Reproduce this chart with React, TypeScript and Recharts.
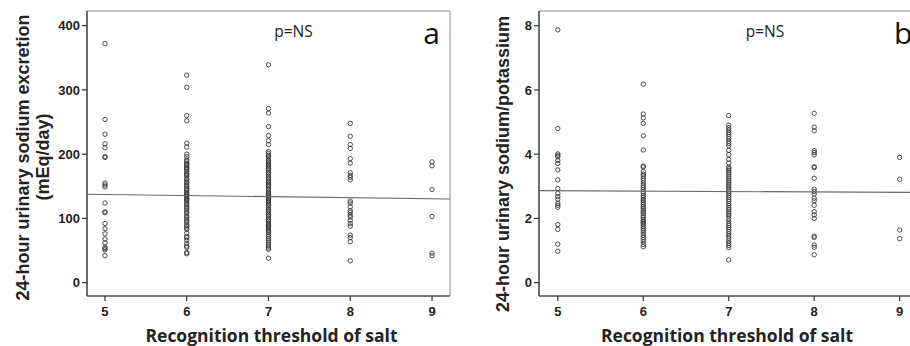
import React from 'react';
import { ScatterChart, Scatter, XAxis, YAxis, ReferenceArea, Customized } from 'recharts';

// ---- data ----
const thresholds = [5, 6, 7, 8, 9];
const sodiumAt5 = [372, 254, 231, 216, 210, 196, 195, 155, 152, 149, 124, 110, 109, 92, 84, 76, 68, 62, 55, 53, 51, 42];
const sodiumAt6 = [323, 304, 260, 252, 217, 211, 200, 196, 191, 189, 186, 184, 183, 180, 178, 176, 173, 170, 168, 166, 162, 160, 157, 155, 152, 150, 147, 145, 143, 140, 138, 136, 134, 131, 130, 128, 126, 123, 121, 118, 116, 113, 110, 108, 104, 102, 99, 96, 94, 90, 88, 85, 83, 77, 72, 70, 66, 61, 57, 55, 47, 45];
const sodiumAt7 = [339, 271, 264, 243, 229, 221, 215, 204, 201, 198, 196, 193, 190, 188, 185, 183, 181, 178, 177, 174, 171, 169, 166, 163, 161, 158, 156, 153, 151, 149, 146, 144, 141, 139, 137, 135, 133, 131, 129, 127, 125, 122, 120, 117, 114, 112, 109, 106, 104, 101, 98, 96, 93, 91, 89, 87, 85, 82, 80, 78, 75, 72, 69, 66, 63, 60, 57, 54, 52, 38];
const sodiumAt8 = [248, 228, 215, 209, 193, 186, 171, 167, 164, 160, 127, 124, 118, 112, 109, 105, 102, 97, 92, 88, 74, 70, 64, 34];
const sodiumAt9 = [188, 182, 145, 103, 46, 42];
const sodiumFitX = [4.78, 9.22];
const sodiumFitY = [137.6, 130.3];
const sodiumTicks = [0, 100, 200, 300, 400];

const ratioAt5 = [7.87, 4.8, 4.01, 3.96, 3.92, 3.8, 3.71, 3.51, 3.2, 2.93, 2.78, 2.68, 2.6, 2.47, 2.41, 2.35, 1.81, 1.66, 1.2, 0.98];
const ratioAt6 = [6.18, 5.25, 5.13, 4.96, 4.57, 4.13, 3.63, 3.6, 3.46, 3.38, 3.32, 3.25, 3.18, 3.1, 3.03, 2.97, 2.9, 2.84, 2.78, 2.71, 2.66, 2.6, 2.55, 2.49, 2.43, 2.37, 2.32, 2.26, 2.2, 2.15, 2.09, 2.03, 1.97, 1.92, 1.89, 1.85, 1.8, 1.74, 1.68, 1.62, 1.55, 1.48, 1.41, 1.34, 1.27, 1.19, 1.12];
const ratioAt7 = [5.2, 4.9, 4.82, 4.75, 4.68, 4.62, 4.55, 4.48, 4.4, 4.33, 4.26, 4.12, 3.99, 3.84, 3.72, 3.6, 3.55, 3.5, 3.44, 3.38, 3.31, 3.25, 3.19, 3.13, 3.07, 3.01, 2.95, 2.89, 2.83, 2.77, 2.71, 2.65, 2.59, 2.53, 2.46, 2.4, 2.33, 2.27, 2.2, 2.14, 2.08, 2.0, 1.92, 1.84, 1.78, 1.72, 1.66, 1.59, 1.52, 1.45, 1.38, 1.3, 1.23, 1.16, 1.09, 0.71];
const ratioAt8 = [5.27, 4.84, 4.73, 4.11, 4.05, 3.98, 3.61, 3.58, 3.25, 2.91, 2.84, 2.76, 2.63, 2.55, 2.41, 2.21, 2.11, 2.0, 1.45, 1.41, 1.17, 1.1, 0.87];
const ratioAt9 = [3.9, 3.22, 1.64, 1.37];
const ratioFitX = [4.78, 9.22];
const ratioFitY = [2.865, 2.81];
const ratioTicks = [0, 2, 4, 6, 8];

const xLabel = 'Recognition threshold of salt';
const sodiumLabel1 = '24-hour urinary sodium excretion';
const sodiumLabel2 = '(mEq/day)';
const ratioLabel = '24-hour urinary sodium/potassium';
const pText = 'p=NS';

// ---- build tables ----
const buildPoints = (cols: number[][]) =>
  cols.flatMap((vals, i) => vals.map((v) => ({ x: thresholds[i], y: v })));
const buildFit = (xs: number[], ys: number[]) => xs.map((x, i) => ({ x, y: ys[i] }));

const sodiumPoints = buildPoints([sodiumAt5, sodiumAt6, sodiumAt7, sodiumAt8, sodiumAt9]);
const ratioPoints = buildPoints([ratioAt5, ratioAt6, ratioAt7, ratioAt8, ratioAt9]);
const sodiumFit = buildFit(sodiumFitX, sodiumFitY);
const ratioFit = buildFit(ratioFitX, ratioFitY);

const X_DOMAIN: [number, number] = [4.78, 9.22];

const AXIS_FONT = '"Liberation Sans", Arial, sans-serif';
const LABEL_FONT = '"Open Sans", "Noto Sans", sans-serif';

const Circle = (p: any) => (
  <circle cx={p.cx} cy={p.cy} r={2.2} fill="none" stroke="#3a3a3a" strokeWidth={0.9} />
);
const Nothing = () => <g />;

const tickStyle = { fontFamily: AXIS_FONT, fontWeight: 700, fontSize: 13, fill: '#222' };

type PanelProps = {
  width: number;
  marginRight: number;
  yAxisWidth: number;
  points: { x: number; y: number }[];
  fit: { x: number; y: number }[];
  yDomain: [number, number];
  yTicks: number[];
  overlay: React.ReactNode;
};

const Panel = ({ width, marginRight, yAxisWidth, points, fit, yDomain, yTicks, overlay }: PanelProps) => (
  <ScatterChart width={width} height={346} margin={{ top: 11, right: marginRight, bottom: 20, left: 0 }}>
    <XAxis
      type="number"
      dataKey="x"
      domain={X_DOMAIN}
      ticks={thresholds}
      allowDataOverflow
      height={30}
      tick={tickStyle}
      tickSize={5}
      tickMargin={6}
      stroke="#333"
      strokeWidth={1.2}
    />
    <YAxis
      type="number"
      dataKey="y"
      domain={yDomain}
      ticks={yTicks}
      allowDataOverflow
      width={yAxisWidth}
      tick={tickStyle}
      tickSize={5}
      tickMargin={2}
      stroke="#333"
      strokeWidth={1.2}
    />
    <ReferenceArea
      x1={X_DOMAIN[0]}
      x2={X_DOMAIN[1]}
      y1={yDomain[0]}
      y2={yDomain[1]}
      ifOverflow="visible"
      fill="none"
      fillOpacity={0}
      stroke="#8a8a8a"
      strokeWidth={1}
    />
    <Scatter data={points} shape={Circle} isAnimationActive={false} />
    <Scatter data={fit} shape={Nothing} line={{ stroke: '#6a6a6a', strokeWidth: 1.1 }} isAnimationActive={false} />
    <Customized component={() => <g>{overlay}</g>} />
  </ScatterChart>
);

const boldLabel = { fontFamily: AXIS_FONT, fontWeight: 700, fontSize: 18, fill: '#222' } as const;
const xLabelStyle = { fontFamily: LABEL_FONT, fontWeight: 700, fontSize: 17.5, fill: '#222' } as const;
const pStyle = { fontFamily: LABEL_FONT, fontSize: 15.5, fill: '#222' } as const;
const letterStyle = { fontFamily: LABEL_FONT, fontSize: 30, fill: '#111' } as const;

const leftOverlay = (
  <>
    <text transform="translate(23,157.5) rotate(-90)" textAnchor="middle" dominantBaseline="central" style={boldLabel}>{sodiumLabel1}</text>
    <text transform="translate(43,157) rotate(-90)" textAnchor="middle" dominantBaseline="central" style={boldLabel}>{sodiumLabel2}</text>
    <text x={271.5} y={335} textAnchor="middle" dominantBaseline="central" style={xLabelStyle}>{xLabel}</text>
    <text x={293.5} y={31} textAnchor="middle" dominantBaseline="central" style={pStyle}>{pText}</text>
    <text x={431.5} y={44} textAnchor="middle" style={letterStyle}>a</text>
  </>
);

const rightOverlay = (
  <>
    <text transform="translate(43,164) rotate(-90)" textAnchor="middle" dominantBaseline="central" style={boldLabel}>{ratioLabel}</text>
    <text x={267} y={335} textAnchor="middle" dominantBaseline="central" style={xLabelStyle}>{xLabel}</text>
    <text x={305} y={31} textAnchor="middle" dominantBaseline="central" style={pStyle}>{pText}</text>
    <text x={434} y={44} textAnchor="start" style={letterStyle}>b</text>
  </>
);

export default function App() {
  return (
    <div style={{ position: 'fixed', left: 0, top: 0, width: 910, height: 346, overflow: 'hidden', background: '#fff' }}>
      <div style={{ position: 'absolute', left: 0, top: 0 }}>
        <Panel
          width={460}
          marginRight={10}
          yAxisWidth={87}
          points={sodiumPoints}
          fit={sodiumFit}
          yDomain={[-20.75, 422.8]}
          yTicks={sodiumTicks}
          overlay={leftOverlay}
        />
      </div>
      <div style={{ position: 'absolute', left: 460, top: 0 }}>
        <Panel
          width={470}
          marginRight={11.5}
          yAxisWidth={79}
          points={ratioPoints}
          fit={ratioFit}
          yDomain={[-0.415, 8.457]}
          yTicks={ratioTicks}
          overlay={rightOverlay}
        />
      </div>
    </div>
  );
}
